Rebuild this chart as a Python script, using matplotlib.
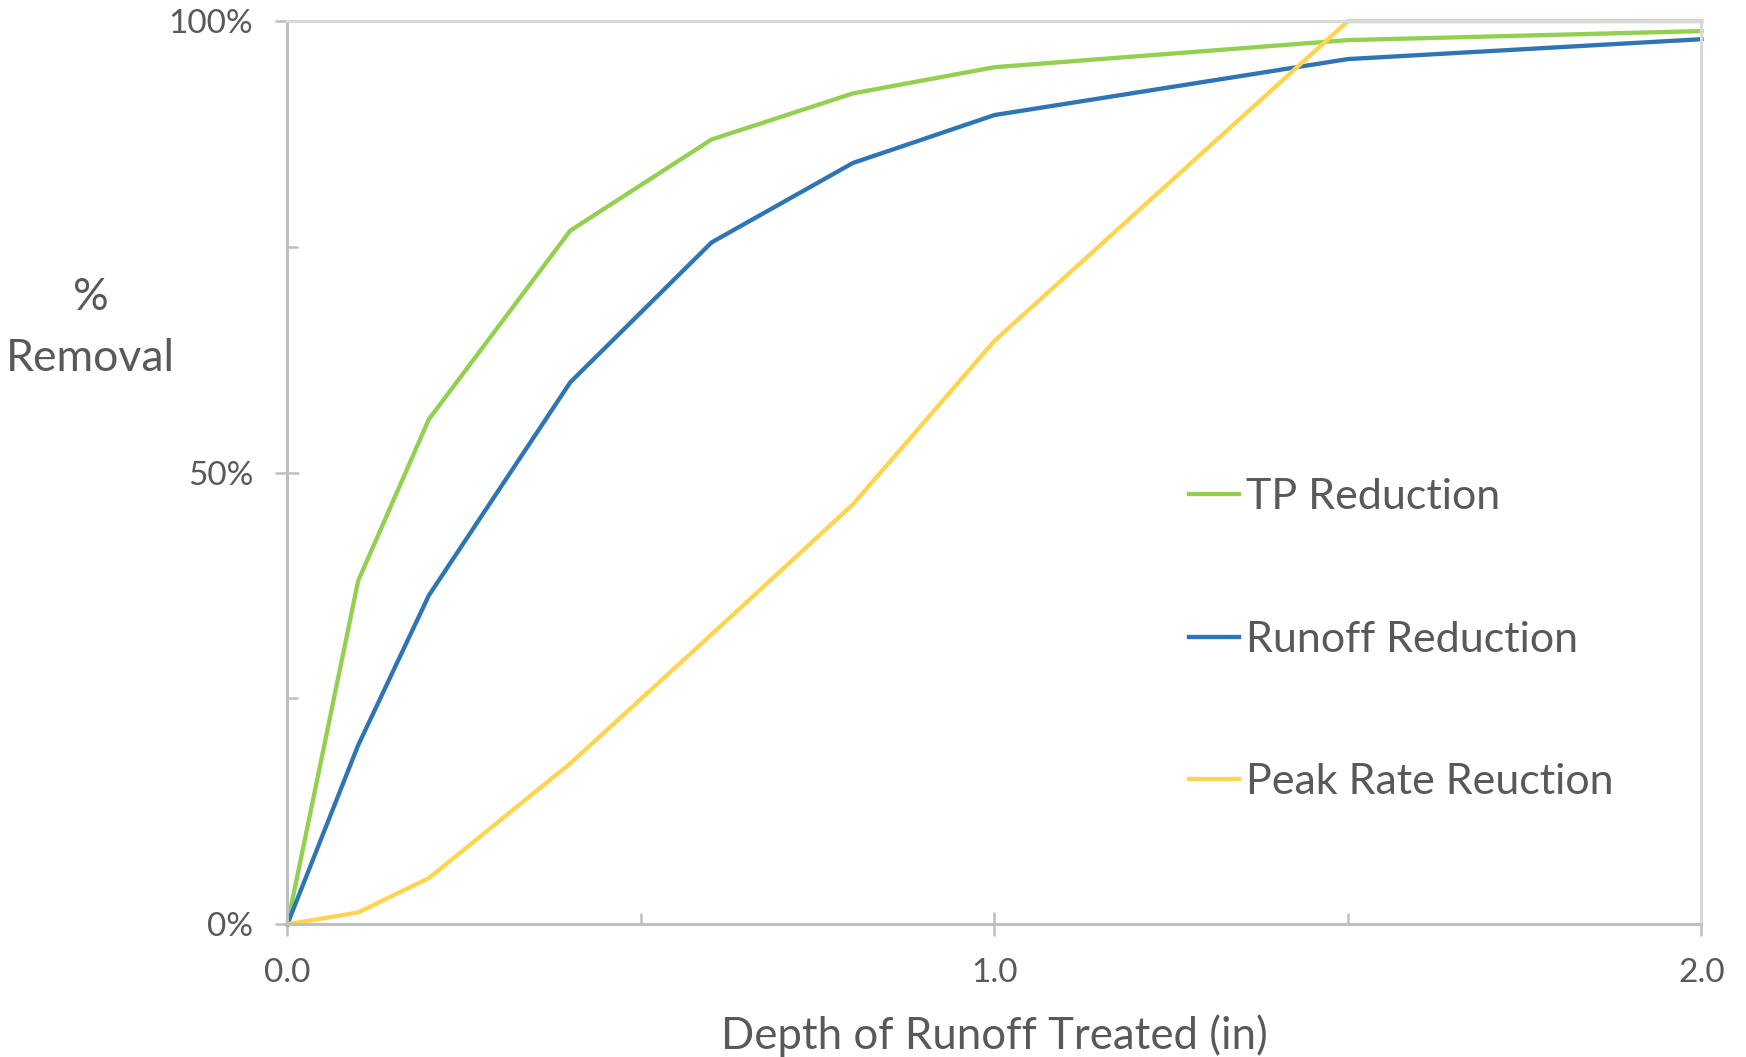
import matplotlib
matplotlib.use("Agg")
from matplotlib import pyplot as plt
from matplotlib.ticker import MultipleLocator, PercentFormatter

plt.rcParams['font.family'] = ['Lato', 'DejaVu Sans']

# depth of runoff treated (in)
depth = [0.0, 0.1, 0.2, 0.4, 0.6, 0.8, 1.0, 1.5, 2.0]
# % removal
tp_reduction = [0.0, 38.0, 55.9, 76.8, 86.9, 92.0, 94.9, 97.9, 98.9]
runoff_reduction = [0.0, 19.8, 36.4, 60.0, 75.5, 84.3, 89.6, 95.8, 98.0]
peak_rate_reduction = [0.0, 1.3, 5.1, 17.8, 32.1, 46.5, 64.6, 100.0, 100.0]

series_names = ["TP Reduction", "Runoff Reduction", "Peak Rate Reuction"]
series_colors = ["#92D050", "#2E75B6", "#FFD44F"]

text_color = "#595959"
axis_color = "#BFBFBF"
grid_color = "#D9D9D9"

fig = plt.figure(figsize=(17.46, 10.57), dpi=100)
ax = fig.add_axes([0.1646, 0.1256, 0.8099, 0.8544])

for values, name, color in zip([tp_reduction, runoff_reduction, peak_rate_reduction],
                               series_names, series_colors):
    ax.plot(depth, values, color=color, linewidth=3.1, label=name,
            solid_joinstyle='miter', clip_on=False)

ax.set_xlim(0, 2)
ax.set_ylim(0, 100)
ax.xaxis.set_major_locator(MultipleLocator(1.0))
ax.xaxis.set_minor_locator(MultipleLocator(0.5))
ax.yaxis.set_major_locator(MultipleLocator(50))
ax.yaxis.set_minor_locator(MultipleLocator(25))
ax.xaxis.set_major_formatter(lambda v, pos: "{:.1f}".format(v))
ax.yaxis.set_major_formatter(PercentFormatter(decimals=0))

for side in ['left', 'bottom']:
    ax.spines[side].set_color(axis_color)
    ax.spines[side].set_linewidth(2.2)
for side in ['top', 'right']:
    ax.spines[side].set_color(grid_color)
    ax.spines[side].set_linewidth(2.2)

ax.tick_params(which='major', direction='inout', length=17, width=1.8,
               color=axis_color, labelsize=24, labelcolor=text_color, pad=16)
ax.tick_params(which='minor', direction='in', length=8, width=1.8, color=axis_color)

ax.set_xlabel("Depth of Runoff Treated (in)", fontsize=31.5, color=text_color, labelpad=19)
ax.set_ylabel("%\nRemoval", fontsize=32, color=text_color, rotation=0,
              ha='center', va='center', linespacing=1.6)
ax.yaxis.set_label_coords(-0.139, 0.66)

ax.legend(loc='upper left', bbox_to_anchor=(0.6376, 0.494), frameon=False,
          fontsize=31, labelcolor=text_color, handlelength=1.17, handletextpad=0.16,
          labelspacing=2.43, borderaxespad=0, borderpad=0)

fig.savefig("out.png", dpi=100)
